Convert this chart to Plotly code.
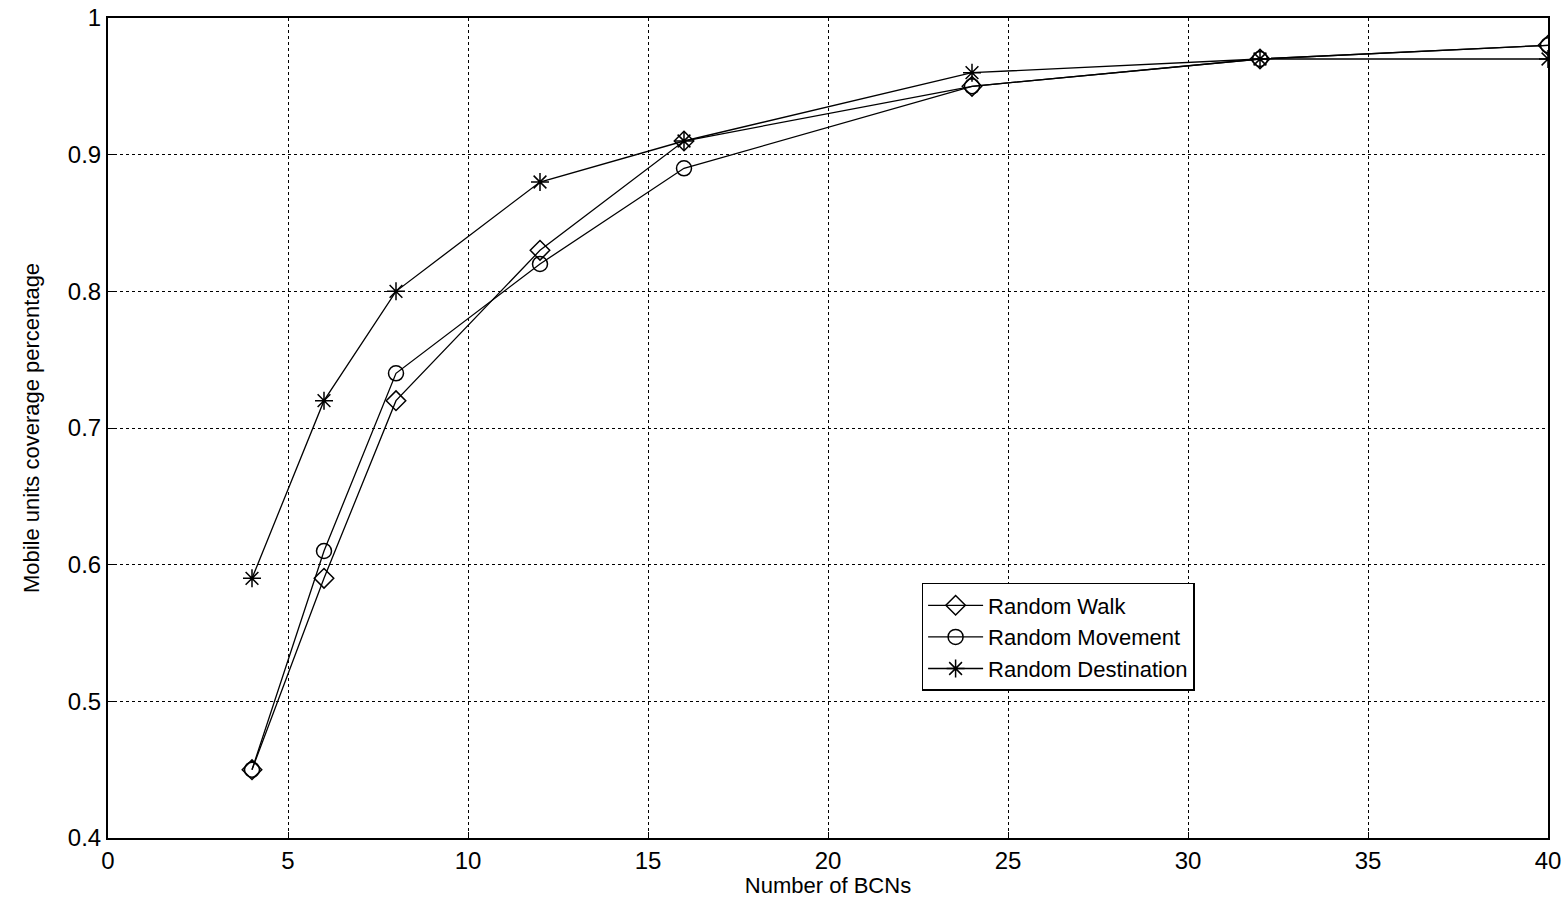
import plotly.graph_objects as go

x_bcn = [4, 6, 8, 12, 16, 24, 32, 40]
walk = [0.45, 0.59, 0.72, 0.83, 0.91, 0.95, 0.97, 0.98]
movement = [0.45, 0.61, 0.74, 0.82, 0.89, 0.95, 0.97, 0.98]
destination = [0.59, 0.72, 0.80, 0.88, 0.91, 0.96, 0.97, 0.97]
series_names = ["Random Walk", "Random Movement", "Random Destination"]
x_ticks = [0, 5, 10, 15, 20, 25, 30, 35, 40]
y_ticks = [0.4, 0.5, 0.6, 0.7, 0.8, 0.9, 1.0]
y_tick_text = ["0.4", "0.5", "0.6", "0.7", "0.8", "0.9", "1"]

FONT = "Liberation Sans, Arial, sans-serif"
fig = go.Figure()
symbols = ["diamond-open", "circle-open", "asterisk-open"]
for name, ys, sym in zip(series_names, [walk, movement, destination], symbols):
    fig.add_trace(go.Scatter(
        x=x_bcn, y=ys, name=name, mode="lines+markers",
        line=dict(color="black", width=1.3),
        marker=dict(symbol=sym, size=15, color="black", line=dict(color="black", width=1.5)),
    ))

axis_common = dict(
    showline=True, linecolor="black", linewidth=2, mirror=True,
    showgrid=True, gridcolor="black", griddash="dot", gridwidth=1,
    ticks="inside", ticklen=6, tickcolor="black", zeroline=False,
    tickfont=dict(family=FONT, size=24, color="black"),
    ticklabeloverflow="allow",
)
fig.update_xaxes(range=[0, 40], tickvals=x_ticks, automargin="top", **axis_common,
                 title=dict(text="Number of BCNs", font=dict(family=FONT, size=22, color="black"), standoff=10))
fig.update_yaxes(range=[0.4, 1.0], tickvals=y_ticks, ticktext=y_tick_text, automargin="left", **axis_common,
                 title=dict(text="Mobile units coverage percentage", font=dict(family=FONT, size=22, color="black"), standoff=22))

fig.update_layout(
    width=1568, height=898,
    margin=dict(l=108, r=20, t=18, b=60),
    paper_bgcolor="white", plot_bgcolor="white",
    showlegend=True,
    legend=dict(x=0.565, y=0.311, xanchor="left", yanchor="top",
                bgcolor="white", bordercolor="black", borderwidth=1.5,
                font=dict(family=FONT, size=22, color="black"),
                tracegroupgap=0, itemwidth=55),
)
fig.write_html("out.html", config={"displayModeBar": False},
               post_script="document.body.style.margin='0';")
